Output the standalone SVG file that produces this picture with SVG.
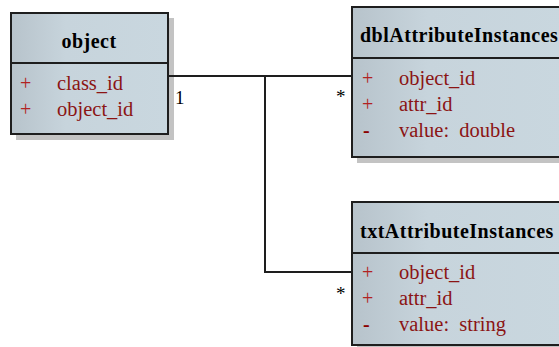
<svg xmlns="http://www.w3.org/2000/svg" width="559" height="347" viewBox="0 0 559 347">
<defs>
<linearGradient id="g" x1="0" y1="0" x2="1" y2="0">
<stop offset="0" stop-color="#b7c3cb"/>
<stop offset="0.35" stop-color="#c7d4dc"/>
<stop offset="1" stop-color="#c9d7df"/>
</linearGradient>
<style>
.shadow{fill:#c3c3c3}
.box{fill:url(#g);stroke:#1e1e1e;stroke-width:2}
.div{stroke:#1e1e1e;stroke-width:2}
.hdr{font-family:"Liberation Serif",serif;font-weight:bold;font-size:20px;fill:#000;letter-spacing:0.5px}
.attr{font-family:"Liberation Serif",serif;font-size:20.5px;fill:#8b1414;white-space:pre}
.vis{font-family:"Liberation Serif",serif;font-size:20px;fill:#b22222}
.minus{font-family:"Liberation Serif",serif;font-size:20px;font-weight:bold;fill:#8b0000}
.conn{fill:none;stroke:#1e1e1e;stroke-width:2}
.mult{font-family:"Liberation Serif",serif;font-size:19px;fill:#000}
</style>
</defs>
<g id="object">
<rect class="shadow" x="16" y="18" width="158" height="122"/>
<rect class="box" x="11" y="13" width="157" height="121"/>
<line class="div" x1="11" y1="63" x2="168" y2="63"/>
<text class="hdr" x="89" y="48" text-anchor="middle">object</text>
<text class="vis" x="20" y="90">+</text>
<text class="attr" x="57" y="90">class_id</text>
<text class="vis" x="20" y="116">+</text>
<text class="attr" x="57" y="116">object_id</text>
</g>
<g id="dblAttributeInstances">
<rect class="shadow" x="357" y="12" width="210" height="151"/>
<rect class="box" x="352" y="7" width="215" height="150"/>
<line class="div" x1="352" y1="58" x2="567" y2="58"/>
<text class="hdr" x="360" y="42">dblAttributeInstances</text>
<text class="vis" x="362" y="85">+</text>
<text class="attr" x="399" y="85">object_id</text>
<text class="vis" x="362" y="111">+</text>
<text class="attr" x="399" y="111">attr_id</text>
<text class="minus" x="363" y="137">-</text>
<text class="attr" x="399" y="137" xml:space="preserve">value:  double</text>
</g>
<g id="txtAttributeInstances">
<rect class="shadow" x="357" y="207" width="210" height="150"/>
<rect class="box" x="352" y="202" width="215" height="143"/>
<line class="div" x1="352" y1="253" x2="567" y2="253"/>
<text class="hdr" x="360" y="238">txtAttributeInstances</text>
<text class="vis" x="362" y="279">+</text>
<text class="attr" x="399" y="279">object_id</text>
<text class="vis" x="362" y="305">+</text>
<text class="attr" x="399" y="305">attr_id</text>
<text class="minus" x="363" y="331">-</text>
<text class="attr" x="399" y="331" xml:space="preserve">value:  string</text>
</g>
<g id="connectors">
<path class="conn" d="M169,76 H351 M265,76 V272 H351"/>
<text class="mult" x="175" y="104">1</text>
<text class="mult" x="336" y="103">*</text>
<text class="mult" x="336" y="300">*</text>
</g>
</svg>
